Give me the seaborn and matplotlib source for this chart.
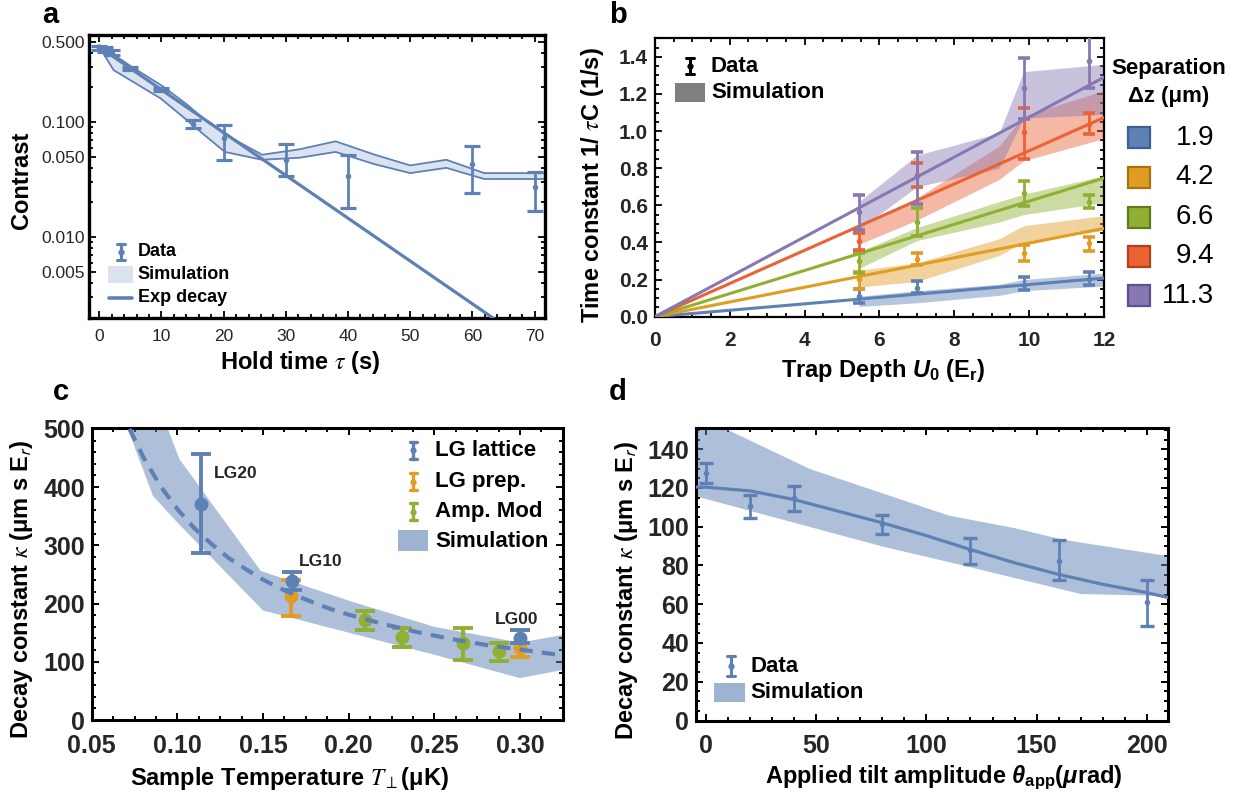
import numpy as np
import pandas as pd
import matplotlib
matplotlib.use("Agg")
import matplotlib.pyplot as plt
import matplotlib.transforms as mtransforms
from matplotlib.patches import Rectangle
from matplotlib.lines import Line2D
from matplotlib.ticker import MultipleLocator, LogLocator, NullFormatter
import seaborn as sns

sns.set_theme(style="ticks")
plt.rcParams['font.family'] = ['Liberation Sans', 'DejaVu Sans']
plt.rcParams['mathtext.fontset'] = 'custom'
plt.rcParams['mathtext.rm'] = 'Liberation Sans:bold'
plt.rcParams['mathtext.it'] = 'Liberation Sans:bold:italic'
plt.rcParams['mathtext.bf'] = 'Liberation Sans:bold'
plt.rcParams['mathtext.sf'] = 'Liberation Sans:bold'

BLUE, ORANGE, GREEN, RED, PURPLE = '#5E81B5', '#E19C24', '#8FB032', '#EB6235', '#8778B3'

# ---------------- panel a data ----------------
A_T = [0, 1, 2, 5, 10, 15, 20, 30, 40, 60, 70]
A_C = [0.44, 0.43, 0.40, 0.293, 0.192, 0.097, 0.072, 0.047, 0.034, 0.043, 0.0275]
A_LO = [0.42, 0.41, 0.38, 0.283, 0.185, 0.088, 0.047, 0.034, 0.018, 0.024, 0.017]
A_HI = [0.46, 0.45, 0.42, 0.303, 0.199, 0.104, 0.094, 0.064, 0.052, 0.062, 0.037]
A_SIM_T = [0, 2.3, 5.3, 9.9, 13.9, 16.8, 20.2, 26.2, 32.2, 38, 44.3, 50, 55.8, 61.9, 72]
A_SIM_HI = [0.467, 0.386, 0.30, 0.21, 0.145, 0.107, 0.078, 0.052, 0.058, 0.068, 0.052, 0.042, 0.047, 0.036, 0.036]
A_SIM_LO = [0.452, 0.283, 0.226, 0.160, 0.106, 0.078, 0.055, 0.047, 0.049, 0.055, 0.043, 0.036, 0.040, 0.032, 0.032]
A_EXP_T = [0, 72]
A_EXP_C = [0.45, 0.00094]
A_XTICKS = [0, 10, 20, 30, 40, 50, 60, 70]
A_YTICKS = [0.5, 0.1, 0.05, 0.01, 0.005]
A_YTICKLABELS = ['0.500', '0.100', '0.050', '0.010', '0.005']

# ---------------- panel b data ----------------
SEPARATIONS = ['1.9', '4.2', '6.6', '9.4', '11.3']
B_COLORS = [BLUE, ORANGE, GREEN, RED, PURPLE]
B_EDGES = ['#3E5F8F', '#A8720F', '#627A1E', '#B5401A', '#5E5089']
B_X = [5.45, 7.0, 9.85, 11.6]
B_Y_19 = [0.11, 0.157, 0.172, 0.204]
B_LO_19 = [0.075, 0.127, 0.145, 0.172]
B_HI_19 = [0.15, 0.194, 0.212, 0.24]
B_Y_42 = [0.205, 0.313, 0.344, 0.398]
B_LO_42 = [0.150, 0.28, 0.302, 0.356]
B_HI_42 = [0.24, 0.343, 0.385, 0.429]
B_Y_66 = [0.298, 0.51, 0.664, 0.62]
B_LO_66 = [0.235, 0.434, 0.597, 0.588]
B_HI_66 = [0.343, 0.585, 0.733, 0.657]
B_Y_94 = [0.41, 0.765, 0.996, 1.04]
B_LO_94 = [0.362, 0.70, 0.85, 0.982]
B_HI_94 = [0.452, 0.828, 1.127, 1.098]
B_Y_113 = [0.566, 0.76, 1.233, 1.38]
B_LO_113 = [0.465, 0.606, 1.067, 1.23]
B_HI_113 = [0.657, 0.886, 1.393, 1.55]
B_FIT_X = [0, 12]
B_FIT_END = [0.208, 0.476, 0.747, 1.073, 1.29]
B_BAND_X = [5.45, 7.0, 9.2, 9.85, 12.0]
B_BAND_HI = [[0.11, 0.14, 0.175, 0.20, 0.235],
             [0.25, 0.29, 0.42, 0.49, 0.545],
             [0.35, 0.48, 0.62, 0.66, 0.76],
             [0.48, 0.64, 0.92, 1.08, 1.22],
             [0.62, 0.87, 0.99, 1.32, 1.36]]
B_BAND_LO = [[0.055, 0.075, 0.115, 0.14, 0.165],
             [0.16, 0.19, 0.33, 0.40, 0.465],
             [0.26, 0.41, 0.51, 0.55, 0.615],
             [0.39, 0.52, 0.74, 0.84, 0.96],
             [0.47, 0.70, 0.80, 1.07, 1.09]]
B_XTICKS = [0, 2, 4, 6, 8, 10, 12]
B_YTICKS = [0.0, 0.2, 0.4, 0.6, 0.8, 1.0, 1.2, 1.4]

# ---------------- panel c data ----------------
C_LAT_T = [0.114, 0.1667, 0.300]
C_LAT_K = [371, 238.5, 141]
C_LAT_LO = [287, 224, 132]
C_LAT_HI = [457, 254.6, 155]
C_PREP_T = [0.1664, 0.300]
C_PREP_K = [212.6, 123.6]
C_PREP_LO = [179.3, 109]
C_PREP_HI = [241, 132]
C_AMP_T = [0.2094, 0.2313, 0.2665, 0.2880]
C_AMP_K = [172.4, 142, 132, 117.8]
C_AMP_LO = [155, 125.3, 103.4, 100.5]
C_AMP_HI = [186.7, 158, 158, 132]
C_FIT_T = [0.072, 0.08, 0.09, 0.10, 0.11, 0.12, 0.13, 0.14, 0.15, 0.16, 0.17, 0.18, 0.19,
           0.20, 0.22, 0.24, 0.26, 0.28, 0.30, 0.325]
C_FIT_K = [500, 452, 402, 362, 329, 302, 278, 259, 241, 226, 213, 201, 190,
           181, 165, 151, 139, 129, 121, 111]
C_SIM_LO_T = [0.071, 0.0857, 0.100, 0.150, 0.200, 0.250, 0.300, 0.325]
C_SIM_LO_K = [500, 385, 339, 188, 150, 112, 72, 86]
C_SIM_HI_T = [0.0944, 0.1012, 0.1487, 0.200, 0.250, 0.300, 0.325]
C_SIM_HI_K = [500, 448, 256, 205, 160, 133, 146]
C_LABELS = ['LG20', 'LG10', 'LG00']
C_XTICKS = [0.05, 0.10, 0.15, 0.20, 0.25, 0.30]
C_XTICKLABELS = ['0.05', '0.10', '0.15', '0.20', '0.25', '0.30']
C_YTICKS = [0, 100, 200, 300, 400, 500]

# ---------------- panel d data ----------------
D_TH = [0, 20, 40, 80, 120, 160, 200]
D_K = [127.7, 110.9, 114.8, 101.6, 87.9, 82.2, 61.2]
D_LO = [122.5, 104.5, 108.3, 96.5, 80.9, 72.3, 48.8]
D_HI = [132.8, 116.2, 121.1, 106.2, 94.2, 92.9, 72.3]
D_FIT_TH = [-5, 0, 20, 40, 60, 80, 100, 120, 140, 160, 180, 200, 210]
D_FIT_K = [120.5, 120.4, 118.5, 114, 108, 102, 95.4, 88.2, 81.4, 75.4, 70.3, 66, 63.4]
D_SIM_HI_TH = [-5, 8.5, 47, 110, 140, 162, 210]
D_SIM_HI_K = [158, 150.8, 130, 106, 99.5, 93.5, 85]
D_SIM_LO_TH = [-5, 80, 110, 170, 210]
D_SIM_LO_K = [116, 90, 82, 65.5, 64.5]
D_XTICKS = [0, 50, 100, 150, 200]
D_YTICKS = [0, 20, 40, 60, 80, 100, 120, 140]

# ---------------- figure ----------------
W, H = 1240, 799
fig = plt.figure(figsize=(W / 100, H / 100), dpi=100)
fig.patch.set_facecolor('white')
PIX = mtransforms.Affine2D().scale(1 / W, -1 / H).translate(0, 1) + fig.transFigure


def add_ax(l, t, r, b):
    return fig.add_axes([l / W, 1 - b / H, (r - l) / W, (b - t) / H])


def frame(ax, lw, twidth=1.3, maj=5, mnr=2.6):
    for s in ax.spines.values():
        s.set_visible(True)
        s.set_linewidth(lw)
        s.set_color('black')
    ax.grid(False)
    ax.set_facecolor('white')
    ax.tick_params(which='both', direction='in', top=True, right=True, color='black',
                   width=twidth)
    ax.tick_params(which='major', length=maj)
    ax.tick_params(which='minor', length=mnr)


def labels(ax, xl, yl, xpos, ypos, fs, xmath='custom', ymath='custom'):
    ax.set_xlabel(xl, fontsize=fs, fontweight='bold', color='black')
    ax.set_ylabel(yl, fontsize=fs, fontweight='bold', color='black')
    ax.xaxis.set_label_coords(xpos[0], xpos[1], transform=PIX)
    ax.yaxis.set_label_coords(ypos[0], ypos[1], transform=PIX)
    ax.xaxis.label.set_va('center')
    ax.yaxis.label.set_va('center')
    ax.yaxis.label.set_ha('center')
    ax.xaxis.label.set_math_fontfamily(xmath)
    ax.yaxis.label.set_math_fontfamily(ymath)


def ftext(x, y, s, **kw):
    kw.setdefault('color', 'black')
    fig.text(x, y, s, transform=PIX, **kw)


def legend_errbar(x, y0, y1, color, cap=4.5, lw=2.2):
    fig.add_artist(Line2D([x, x], [y0, y1], transform=PIX, color=color, lw=lw))
    for yy in (y0, y1):
        fig.add_artist(Line2D([x - cap, x + cap], [yy, yy], transform=PIX, color=color, lw=lw))
    fig.add_artist(Line2D([x], [(y0 + y1) / 2], transform=PIX, color=color, marker='o',
                          ms=3.5, lw=0))


def legend_patch(x0, y0, x1, y1, color, alpha=1.0, ec='none', lw=0):
    fig.add_artist(Rectangle((x0, y0), x1 - x0, y1 - y0, transform=PIX, facecolor=color,
                             alpha=alpha, edgecolor=ec, lw=lw))


# ================= panel a =================
axA = add_ax(89.3, 35, 544.6, 318.3)
axA.set_yscale('log')
axA.fill_between(A_SIM_T, A_SIM_LO, A_SIM_HI, color='#DCE3F0', lw=0, zorder=1)
sns.lineplot(x=A_SIM_T, y=A_SIM_HI, ax=axA, color=BLUE, lw=1.3, zorder=2)
sns.lineplot(x=A_SIM_T, y=A_SIM_LO, ax=axA, color=BLUE, lw=1.3, zorder=2)
sns.lineplot(x=A_EXP_T, y=A_EXP_C, ax=axA, color=BLUE, lw=2.3, zorder=3)
a_c = np.array(A_C)
axA.errorbar(A_T, A_C, yerr=[a_c - np.array(A_LO), np.array(A_HI) - a_c], fmt='o', ms=3,
             color=BLUE, elinewidth=2.0, capsize=5.5, capthick=2.3, zorder=4)
axA.set_xlim(-1.6, 71.6)
axA.set_ylim(0.00197, 0.571)
frame(axA, 2.4, twidth=1.3, maj=5, mnr=3)
axA.set_xticks(A_XTICKS, [str(v) for v in A_XTICKS], fontsize=12.5)
axA.set_yticks(A_YTICKS, A_YTICKLABELS, fontsize=12.5)
axA.xaxis.set_minor_locator(MultipleLocator(2))
axA.yaxis.set_minor_locator(LogLocator(base=10, subs=np.arange(2, 10) * 1.0, numticks=20))
axA.yaxis.set_minor_formatter(NullFormatter())
axA.tick_params(axis='x', which='major', pad=8)
axA.tick_params(axis='y', which='major', pad=3)
labels(axA, r'Hold time $\tau$ (s)', 'Contrast', (300, 362), (22, 180), 17, xmath='stix')
# legend a
legend_errbar(121.4, 244, 260, BLUE, cap=4, lw=2.2)
ftext(137.5, 252, 'Data', fontsize=13, fontweight='bold', va='center')
legend_patch(108, 266, 133, 283, '#DCE3F0')
ftext(137.5, 274.5, 'Simulation', fontsize=13, fontweight='bold', va='center')
fig.add_artist(Line2D([109, 132], [297.5, 297.5], transform=PIX, color=BLUE, lw=2.6))
ftext(137.5, 297, 'Exp decay', fontsize=13, fontweight='bold', va='center')

# ================= panel b =================
axB = add_ax(654.9, 38.3, 1104, 316.7)
b_y = [B_Y_19, B_Y_42, B_Y_66, B_Y_94, B_Y_113]
b_lo = [B_LO_19, B_LO_42, B_LO_66, B_LO_94, B_LO_113]
b_hi = [B_HI_19, B_HI_42, B_HI_66, B_HI_94, B_HI_113]
for i, col in enumerate(B_COLORS):
    axB.fill_between(B_BAND_X, B_BAND_LO[i], B_BAND_HI[i], color=col, alpha=0.45, lw=0, zorder=1)
for i, col in enumerate(B_COLORS):
    sns.lineplot(x=B_FIT_X, y=[0, B_FIT_END[i]], ax=axB, color=col, lw=2.2, zorder=3)
for i, col in enumerate(B_COLORS):
    yy = np.array(b_y[i])
    axB.errorbar(B_X, yy, yerr=[yy - np.array(b_lo[i]), np.array(b_hi[i]) - yy], fmt='o',
                 ms=3, color=col, elinewidth=2.0, capsize=4.5, capthick=2.6, zorder=4 + i)
axB.set_xlim(0, 12)
axB.set_ylim(0, 1.5)
frame(axB, 1.6, twidth=1.3, maj=5, mnr=2.6)
axB.set_xticks(B_XTICKS, [str(v) for v in B_XTICKS], fontsize=15, fontweight='bold')
axB.set_yticks(B_YTICKS, ['%.1f' % v for v in B_YTICKS], fontsize=15, fontweight='bold')
axB.xaxis.set_minor_locator(MultipleLocator(0.5))
axB.yaxis.set_minor_locator(MultipleLocator(0.05))
axB.tick_params(axis='x', which='major', pad=10)
axB.tick_params(axis='y', which='major', pad=5)
labels(axB, r'Trap Depth $U_{\mathit{0}}$ (E$_{\mathrm{r}}$)', r'Time constant 1/ $\tau$C (1/s)',
       (883, 371), (593, 185), 17, xmath='custom', ymath='stix')
# inner legend b
legend_errbar(690, 58, 74, 'black', cap=4, lw=2.2)
ftext(711, 66, 'Data', fontsize=16, fontweight='bold', va='center')
legend_patch(674.7, 83, 705, 102, '#7F7F7F')
ftext(711, 93, 'Simulation', fontsize=16, fontweight='bold', va='center')
# separation legend
ftext(1169, 68.3, 'Separation', fontsize=16, fontweight='bold', ha='center', va='center')
ftext(1169, 96.7, 'Δz (μm)', fontsize=16, fontweight='bold', ha='center', va='center')
row_y = [137.7, 177.2, 217.5, 256.3, 295.8]
for i, lab in enumerate(SEPARATIONS):
    legend_patch(1127.5, row_y[i] - 10.5, 1149.5, row_y[i] + 10.5, B_COLORS[i], ec=B_EDGES[i], lw=1.6)
    ftext(1214, row_y[i], lab, fontsize=20, ha='right', va='center')

# ================= panel c =================
axC = add_ax(91.8, 428.3, 563.3, 720)
poly_t = list(C_SIM_LO_T) + list(C_SIM_HI_T[::-1])
poly_k = list(C_SIM_LO_K) + list(C_SIM_HI_K[::-1])
axC.fill(poly_t, poly_k, color=BLUE, alpha=0.5, lw=0, zorder=1)
sns.lineplot(x=C_FIT_T, y=C_FIT_K, ax=axC, color=BLUE, lw=3.0, zorder=5,
             dashes=False, linestyle=(0, (3.2, 2.2)))
for tt, kk, lo, hi, col, z in [(C_LAT_T, C_LAT_K, C_LAT_LO, C_LAT_HI, BLUE, 4),
                                (C_PREP_T, C_PREP_K, C_PREP_LO, C_PREP_HI, ORANGE, 3),
                                (C_AMP_T, C_AMP_K, C_AMP_LO, C_AMP_HI, GREEN, 3)]:
    kk = np.array(kk)
    axC.errorbar(tt, kk, yerr=[kk - np.array(lo), np.array(hi) - kk], fmt='o', ms=9,
                 color=col, elinewidth=2.8, capsize=7.5, capthick=2.8, zorder=z)
axC.set_xlim(0.05, 0.3253)
axC.set_ylim(0, 501)
frame(axC, 2.2, twidth=1.4, maj=5, mnr=2.6)
axC.set_xticks(C_XTICKS, C_XTICKLABELS, fontsize=18, fontweight='bold')
axC.set_yticks(C_YTICKS, [str(v) for v in C_YTICKS], fontsize=18, fontweight='bold')
axC.xaxis.set_minor_locator(MultipleLocator(0.0125))
axC.yaxis.set_minor_locator(MultipleLocator(20))
axC.tick_params(axis='x', which='major', pad=10)
axC.tick_params(axis='y', which='major', pad=5)
labels(axC, r'Sample Temperature $T_{\perp}$(μK)', r'Decay constant $\kappa$ (μm s E$_{\mathsf{r}}$)',
       (289, 778), (22, 589), 17, xmath='stix', ymath='stix')
axC.text(214, 473, C_LABELS[0], transform=PIX, fontsize=12.5, fontweight='bold', va='center')
axC.text(320.5, 561.7, C_LABELS[1], transform=PIX, fontsize=12.5, fontweight='bold', va='center', ha='center')
axC.text(517, 619, C_LABELS[2], transform=PIX, fontsize=12.5, fontweight='bold', va='center', ha='center')
# legend c
for yy, col, lab in [(450, BLUE, 'LG lattice'), (481.7, ORANGE, 'LG prep.'), (511.7, GREEN, 'Amp. Mod')]:
    legend_errbar(413, yy - 8.5, yy + 8.5, col, cap=3.5, lw=2.4)
    ftext(435, yy, lab, fontsize=16, fontweight='bold', va='center')
legend_patch(398, 530, 428, 551, BLUE, alpha=0.6)
ftext(435, 541.7, 'Simulation', fontsize=16, fontweight='bold', va='center')

# ================= panel d =================
axD = add_ax(696, 428.3, 1168.3, 720.5)
d_grid = np.union1d(D_SIM_HI_TH, D_SIM_LO_TH)
hi_interp = np.interp(d_grid, D_SIM_HI_TH, D_SIM_HI_K)
lo_interp = np.interp(d_grid, D_SIM_LO_TH, D_SIM_LO_K)
axD.fill_between(d_grid, lo_interp, hi_interp, color=BLUE, alpha=0.5, lw=0, zorder=1)
sns.lineplot(x=D_FIT_TH, y=D_FIT_K, ax=axD, color=BLUE, lw=2.3, zorder=3)
d_k = np.array(D_K)
axD.errorbar(D_TH, D_K, yerr=[d_k - np.array(D_LO), np.array(D_HI) - d_k], fmt='o', ms=3,
             color=BLUE, elinewidth=2.0, capsize=5, capthick=2.4, zorder=4)
axD.set_xlim(-4.6, 209.8)
axD.set_ylim(0, 150.8)
frame(axD, 2.2, twidth=1.4, maj=5, mnr=2.6)
axD.set_xticks(D_XTICKS, [str(v) for v in D_XTICKS], fontsize=18, fontweight='bold')
axD.set_yticks(D_YTICKS, [str(v) for v in D_YTICKS], fontsize=18, fontweight='bold')
axD.xaxis.set_minor_locator(MultipleLocator(10))
axD.yaxis.set_minor_locator(MultipleLocator(5))
axD.tick_params(axis='x', which='major', pad=10)
axD.tick_params(axis='y', which='major', pad=5)
labels(axD, r'Applied tilt amplitude $\theta_{\mathrm{app}}$($\mu$rad)',
       r'Decay constant $\kappa$ (μm s E$_{\mathsf{r}}$)', (944, 778), (626, 590), 17,
       xmath='custom', ymath='stix')
legend_errbar(730.7, 656, 676, BLUE, cap=4, lw=2.2)
ftext(750.5, 666, 'Data', fontsize=16, fontweight='bold', va='center')
legend_patch(713.7, 683.3, 744.6, 702, BLUE, alpha=0.6)
ftext(750.5, 693, 'Simulation', fontsize=16, fontweight='bold', va='center')

# panel letters
for x, y, s in [(50, 15, 'a'), (618, 15, 'b'), (61, 392, 'c'), (618, 392, 'd')]:
    ftext(x, y, s, fontsize=21, fontweight='bold', ha='center', va='center')

fig.savefig('out.png', dpi=100, facecolor='white')
